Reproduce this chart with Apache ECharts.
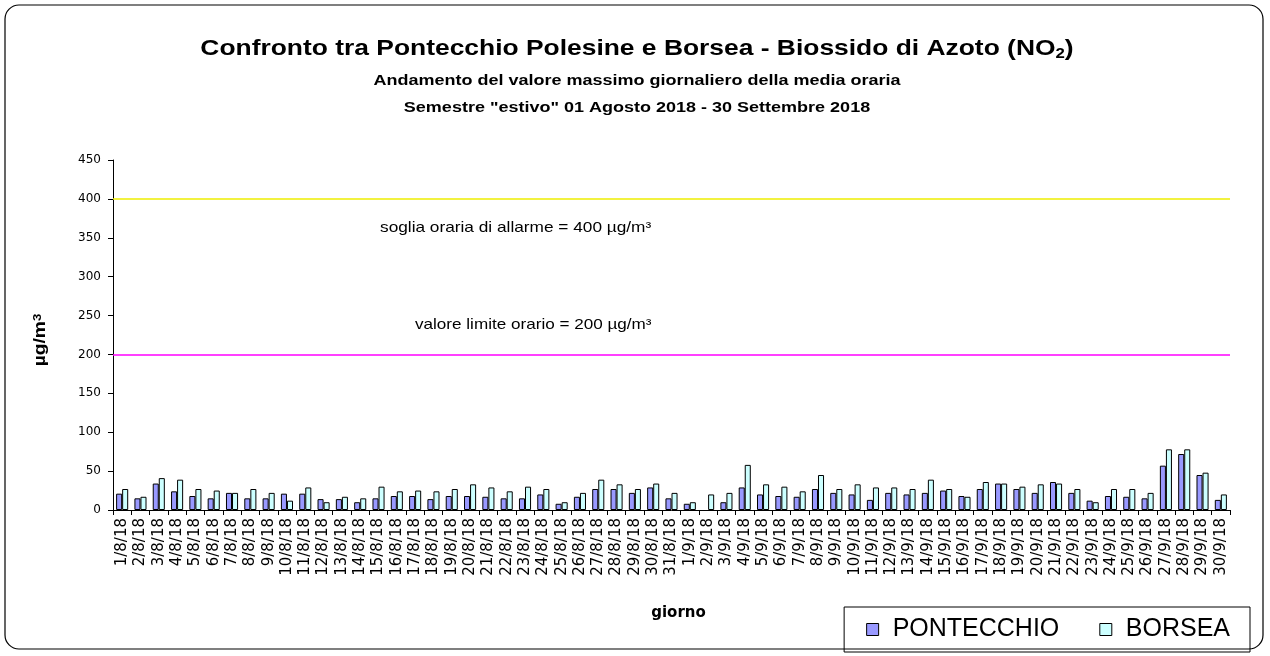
<!DOCTYPE html>
<html>
<head>
<meta charset="UTF-8">
<title>NO2 Pontecchio Borsea</title>
<script src="https://cdn.jsdelivr.net/npm/echarts@6/dist/echarts.min.js"></script>
<style>
    body { margin: 0; padding: 0; background: #fff; }
    #app { width: 1270px; height: 656px; }
</style>
</head>
<body>
<div id="app"></div>
<script>
    // giorni 1/8/18 .. 30/9/18
    var days = [];
    for (var d = 1; d <= 31; d++) days.push(d + '/8/18');
    for (var d = 1; d <= 30; d++) days.push(d + '/9/18');

    // valori (µg/m³)
    var pontecchio = [21, 15, 34, 24, 18, 15, 22, 15, 15, 21, 21, 14, 14, 10, 15, 18, 18, 14, 18, 18,
        17, 15, 15, 20, 8, 17, 27, 27, 22, 29, 15,
        8, null, 10, 29, 20, 18, 17, 27, 22, 20, 13, 22, 20, 22, 25, 18, 27, 34, 27, 22,
        36, 22, 12, 18, 17, 15, 57, 72, 45, 13];
    var borsea = [27, 17, 41, 39, 27, 25, 22, 27, 22, 12, 29, 10, 17, 15, 30, 24, 25, 24, 27, 33,
        29, 24, 30, 27, 10, 22, 39, 33, 27, 34, 22,
        10, 20, 22, 58, 33, 30, 24, 45, 27, 33, 29, 29, 27, 39, 27, 17, 36, 34, 30, 33,
        34, 27, 10, 27, 27, 22, 78, 78, 48, 20];

    var sogliaAllarme = 400;
    var valoreLimite = 200;

    var chart = echarts.init(document.getElementById('app'), null, {renderer: 'canvas'});
    var font = 'Liberation Sans, Arial, sans-serif';
    var wide = 'DejaVu Sans, sans-serif';
    var sx = 1.2; // il testo dell'originale è più largo

    var option = {
        animation: false,
        textStyle: {fontFamily: font},
        graphic: [{
            type: 'rect',
            shape: {x: 5, y: 5, width: 1258, height: 644, r: 14},
            style: {fill: 'none', stroke: '#000', lineWidth: 1.2},
            silent: true
        }, {
            type: 'text',
            x: 637, y: 49, scaleX: sx,
            style: {
                text: 'Confronto tra Pontecchio Polesine e Borsea - Biossido di Azoto (NO{sub|2})',
                font: 'bold 22px ' + font, fill: '#000', align: 'center', verticalAlign: 'middle',
                rich: {sub: {font: 'bold 14px ' + font, verticalAlign: 'bottom', padding: [10, 0, 0, 0]}}
            }
        }, {
            type: 'text',
            x: 637, y: 81, scaleX: sx,
            style: {
                text: 'Andamento del valore massimo giornaliero della media oraria',
                font: 'bold 15px ' + font, fill: '#000', align: 'center', verticalAlign: 'middle'
            }
        }, {
            type: 'text',
            x: 637, y: 108, scaleX: sx,
            style: {
                text: 'Semestre "estivo" 01 Agosto 2018 - 30 Settembre 2018',
                font: 'bold 15px ' + font, fill: '#000', align: 'center', verticalAlign: 'middle'
            }
        }, {
            type: 'text',
            x: 380, y: 228, scaleX: 1.15,
            style: {text: 'soglia oraria di allarme = 400 µg/m³', font: '15px ' + font, fill: '#000', align: 'left', verticalAlign: 'middle'}
        }, {
            type: 'text',
            x: 415, y: 325, scaleX: 1.14,
            style: {text: 'valore limite orario = 200 µg/m³', font: '15px ' + font, fill: '#000', align: 'left', verticalAlign: 'middle'}
        }, {
            type: 'text',
            x: 41, y: 340, rotation: Math.PI / 2, scaleX: sx,
            style: {
                text: 'µg/m{sup|3}', font: 'bold 16px ' + font, fill: '#000', align: 'center', verticalAlign: 'middle',
                rich: {sup: {font: 'bold 11px ' + font, verticalAlign: 'top', padding: [0, 0, 7, 0]}}
            }
        }],
        legend: {
            right: 20,
            bottom: 4,
            orient: 'horizontal',
            itemWidth: 12,
            itemHeight: 12,
            itemGap: 40,
            borderColor: '#000',
            borderWidth: 1,
            padding: [10, 20, 10, 22],
            icon: 'rect',
            itemStyle: {borderColor: '#000', borderWidth: 1},
            textStyle: {fontFamily: font, fontSize: 25, color: '#000', padding: [0, 0, 0, 9]},
            data: ['PONTECCHIO', 'BORSEA']
        },
        grid: {left: 113, right: 40, top: 160, bottom: 146},
        xAxis: {
            type: 'category',
            data: days,
            name: 'giorno',
            nameLocation: 'middle',
            nameGap: 96,
            nameTextStyle: {fontFamily: wide, fontSize: 15, fontWeight: 'bold', color: '#000', padding: [0, 0, 0, 14]},
            axisLine: {lineStyle: {color: '#000'}},
            axisTick: {show: true, alignWithLabel: false, length: 5, lineStyle: {color: '#000'}},
            axisLabel: {rotate: 90, interval: 0, fontFamily: wide, fontSize: 15, color: '#000', margin: 8}
        },
        yAxis: {
            type: 'value',
            min: 0,
            max: 450,
            interval: 50,
            axisLine: {show: true, lineStyle: {color: '#000'}},
            axisTick: {show: true, length: 5, lineStyle: {color: '#000'}},
            axisLabel: {fontFamily: wide, fontSize: 12, color: '#000', margin: 12},
            splitLine: {show: false}
        },
        series: [{
            name: 'PONTECCHIO',
            type: 'bar',
            data: pontecchio,
            barGap: '0%',
            barCategoryGap: '34%',
            itemStyle: {color: '#9999FF', borderColor: '#000', borderWidth: 1},
            markLine: {
                silent: true,
                symbol: 'none',
                label: {show: false},
                emphasis: {disabled: true},
                data: [
                    {yAxis: sogliaAllarme, lineStyle: {color: '#EEEE00', width: 1.6, type: 'solid', opacity: 1}},
                    {yAxis: valoreLimite, lineStyle: {color: '#FF00FF', width: 1.5, type: 'solid', opacity: 1}}
                ]
            }
        }, {
            name: 'BORSEA',
            type: 'bar',
            data: borsea,
            itemStyle: {color: '#CCFFFF', borderColor: '#000', borderWidth: 1}
        }]
    };

    chart.setOption(option);
</script>
</body>
</html>
